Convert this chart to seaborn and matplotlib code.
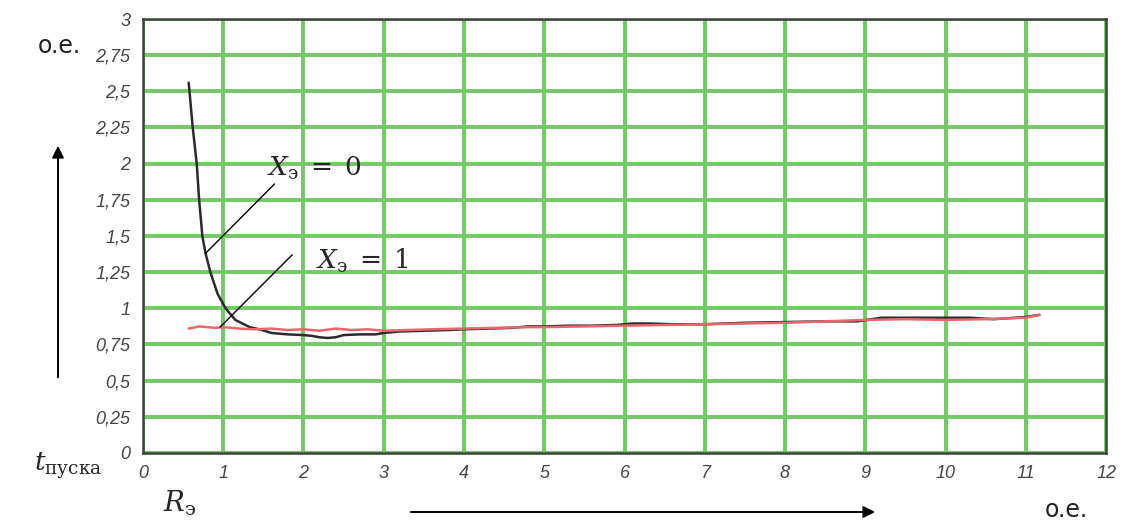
import matplotlib
matplotlib.use("Agg")
import matplotlib.pyplot as plt
import seaborn as sns
import pandas as pd

# ---- data ----
x_x0 = [0.57, 0.62, 0.67, 0.70, 0.74, 0.78, 0.84, 0.93, 1.03, 1.15, 1.33, 1.45,
        1.6, 1.8, 2.0, 2.1, 2.2, 2.3, 2.4, 2.5, 2.7, 2.9, 3.0, 3.2, 3.5, 3.8,
        4.0, 4.3, 4.6, 4.8, 5.0, 5.3, 5.6, 5.9, 6.1, 6.3, 6.6, 7.0, 7.5, 8.0,
        8.5, 8.9, 9.2, 9.6, 10.0, 10.3, 10.6, 11.0, 11.17]
y_x0 = [2.56, 2.25, 2.0, 1.75, 1.5, 1.38, 1.25, 1.10, 1.00, 0.92, 0.87, 0.855,
        0.83, 0.82, 0.815, 0.81, 0.80, 0.795, 0.80, 0.815, 0.82, 0.82, 0.83, 0.84, 0.845, 0.85,
        0.855, 0.86, 0.865, 0.875, 0.875, 0.88, 0.88, 0.885, 0.895, 0.895, 0.89, 0.89, 0.90, 0.905,
        0.91, 0.91, 0.935, 0.935, 0.935, 0.935, 0.925, 0.94, 0.955]

x_x1 = [0.57, 0.7, 0.8, 0.9, 1.0, 1.2, 1.4, 1.6, 1.8, 2.0, 2.2, 2.4, 2.6, 2.8,
        3.0, 3.3, 3.6, 4.0, 4.4, 4.8, 5.0, 5.5, 6.0, 6.5, 7.0, 7.5, 8.0, 8.5,
        9.0, 9.5, 10.0, 10.5, 11.0, 11.17]
y_x1 = [0.86, 0.875, 0.87, 0.865, 0.87, 0.86, 0.855, 0.86, 0.85, 0.855, 0.845, 0.86, 0.85, 0.855,
        0.845, 0.85, 0.855, 0.86, 0.865, 0.87, 0.87, 0.875, 0.88, 0.885, 0.89, 0.895, 0.90, 0.91,
        0.92, 0.925, 0.92, 0.925, 0.935, 0.955]

x_ticks = list(range(0, 13))
y_ticks = [0, 0.25, 0.5, 0.75, 1, 1.25, 1.5, 1.75, 2, 2.25, 2.5, 2.75, 3]
y_tick_labels = ["0", "0,25", "0,5", "0,75", "1", "1,25", "1,5", "1,75", "2",
                 "2,25", "2,5", "2,75", "3"]
label_x0 = r"$X_\mathrm{э}\;=\;0$"
label_x1 = r"$X_\mathrm{э}\;=\;1$"

df0 = pd.DataFrame({"R": x_x0, "t": y_x0})
df1 = pd.DataFrame({"R": x_x1, "t": y_x1})

sns.set_style("white")
plt.rcParams["mathtext.fontset"] = "dejavuserif"
plt.rcParams["font.family"] = ["Liberation Sans", "DejaVu Sans"]

fig = plt.figure(figsize=(11.23, 5.22), dpi=100)
ax = fig.add_axes([0.1273, 0.1322, 0.8576, 0.8314])

sns.lineplot(data=df0, x="R", y="t", ax=ax, color="#2b2b2b", linewidth=1.8,
             sort=False, estimator=None, zorder=3)
sns.lineplot(data=df1, x="R", y="t", ax=ax, color="#e8676a", linewidth=1.8,
             sort=False, estimator=None, zorder=4)

ax.set_xlim(0, 12)
ax.set_ylim(0, 3)
ax.set_xticks(x_ticks)
ax.set_yticks(y_ticks)
ax.set_yticklabels(y_tick_labels)
ax.set_xlabel("")
ax.set_ylabel("")
ax.grid(True, color="#72c965", linewidth=2.8, zorder=0)
ax.set_axisbelow(True)
for s in ax.spines.values():
    s.set_color("#404040")
    s.set_linewidth(1.8)
ax.tick_params(axis="both", length=0, labelsize=13, colors="#454545")
ax.tick_params(axis="x", pad=9)
ax.tick_params(axis="y", pad=9)
for lab in ax.get_xticklabels() + ax.get_yticklabels():
    lab.set_fontstyle("italic")

# leader lines and curve labels
ax.plot([0.78, 1.64], [1.38, 1.86], color="black", linewidth=1.0, zorder=5)
ax.plot([0.96, 1.86], [0.87, 1.37], color="black", linewidth=1.0, zorder=5)
ax.text(1.55, 1.97, label_x0, fontsize=19, va="center", ha="left", zorder=6)
ax.text(2.15, 1.33, label_x1, fontsize=19, va="center", ha="left", zorder=6)

# outer annotations
fig.text(38 / 1123, 1 - 46 / 522, "o.e.", fontsize=17, va="center", ha="left",
         color="#222222", family="DejaVu Sans")
fig.text(1045 / 1123, 1 - 510 / 522, "o.e.", fontsize=17, va="center", ha="left",
         color="#222222", family="DejaVu Sans")
fig.text(34 / 1123, 1 - 466 / 522, r"$t_\mathrm{пуска}$", fontsize=19, va="center", ha="left")
fig.text(163 / 1123, 1 - 503 / 522, r"$R_\mathrm{э}$", fontsize=20, va="center", ha="left")

fig.patches.append(matplotlib.patches.FancyArrowPatch(
    (58 / 1123, 1 - 380 / 522), (58 / 1123, 1 - 143 / 522), transform=fig.transFigure,
    arrowstyle="-|>,head_length=7,head_width=3.5", color="black", linewidth=1.4))
fig.patches.append(matplotlib.patches.FancyArrowPatch(
    (408 / 1123, 1 - 512 / 522), (878 / 1123, 1 - 512 / 522), transform=fig.transFigure,
    arrowstyle="-|>,head_length=7,head_width=3.5", color="black", linewidth=1.4))

fig.savefig("out.png", dpi=100)
